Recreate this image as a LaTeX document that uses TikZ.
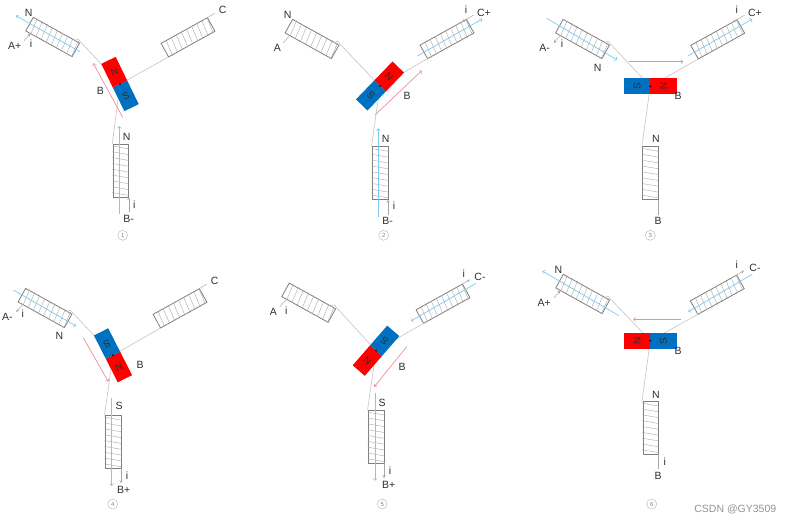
\documentclass[tikz,border=0pt]{standalone}
\usepackage{fontspec}
\setmainfont{Liberation Sans}
\usepackage{tikz}
\usetikzlibrary{calc}
\definecolor{wiregray}{HTML}{C4C4C4}
\definecolor{coilgray}{HTML}{7F7F7F}
\definecolor{windgray}{HTML}{A8A8A8}
\definecolor{fluxblue}{HTML}{7CCBEE}
\definecolor{fieldred}{HTML}{EE8C9C}
\definecolor{poleblue}{HTML}{0070C0}
\definecolor{inkgray}{HTML}{2E2E2E}
\tikzset{
  coilbox/.style={draw=coilgray,line width=0.8pt,fill=white,minimum width=53pt,minimum height=15.5pt,inner sep=0pt,outer sep=0pt},
  wind/.style={draw=windgray,line width=0.4pt,shorten <=-1pt},
  wire/.style={draw=wiregray,line width=0.6pt},
  leadwire/.style={draw=gray!70,line width=0.45pt,>=stealth},
  pole/.style={minimum width=16pt,minimum height=26.3pt,inner sep=0pt,outer sep=0pt,text=inkgray},
  poleN/.style={pole,fill=red},
  poleS/.style={pole,fill=poleblue},
  bluearrow/.style={draw=fluxblue,line width=0.7pt,->},
  redarrow/.style={draw=fieldred,line width=0.7pt,->},
  lbl/.style={inner sep=0pt,text=inkgray,font=\fontsize{10.5}{12}\selectfont},
  panelno/.style={draw=gray!60,circle,line width=0.4pt,minimum size=10pt,inner sep=0pt,text=gray,font=\fontsize{6}{7}\selectfont}
}
\begin{document}
\begin{tikzpicture}[x=1pt,y=-1pt]
\useasboundingbox (0,0) rectangle (794,523);
% panel: coils A, C, B, then rotor
\foreach \p/\ax/\ay/\cx/\cy/\bx/\by/\mx/\my/\ang/\ta/\tc/\tb in {
  1/52.7/37/188/37.3/121/170.5/120/84/116/->/-/<-,
  2/312/39/447/39/380.3/173/380/86/46/-/<-/<-,
  3/582.5/39/717.7/39.3/650.5/173/650.3/86.3/0/<-/<-/-,
  4/45/308/180/308.3/113.2/441.8/113/355.3/-63/<-/-/->,
  5/308.7/302.7/443/303.7/376.3/436.7/376/350.7/229/-/->/->,
  6/582.7/294/717.3/294.7/650.7/427.7/650.3/340.7/180/->/->/-}{
  \coordinate (M\p) at (\mx,\my);
  \node[coilbox,rotate=-29] (A\p) at (\ax,\ay) {};
  \node[coilbox,rotate=29] (C\p) at (\cx,\cy) {};
  \node[coilbox,rotate=90] (B\p) at (\bx,\by) {};
  % windings
  \foreach \f in {0.08,0.19,...,0.96}{
    \draw[wind] ($(A\p.north west)!\f!(A\p.north east)$) -- ($(A\p.south west)!\f+0.03!(A\p.south east)$);
    \draw[wind] ($(C\p.south west)!\f!(C\p.south east)$) -- ($(C\p.north west)!\f+0.03!(C\p.north east)$);
    \draw[wind] ($(B\p.north west)!\f!(B\p.north east)$) -- ($(B\p.south west)!\f-0.05!(B\p.south east)$);
  }
  % wires to the rotor
  \coordinate (Aw\p) at ($(A\p.north west)!.9!(A\p.north east)$);
  \draw[wire] (Aw\p) .. controls +(3,-2) and +(-2,-3) .. ($(A\p.north east)+(1,-1)$) -- (M\p);
  \draw[wire] (C\p.south west) -- (M\p);
  \draw[wire] ($(B\p.north east)+(-1,0)$) -- (M\p);
  % leads
  \coordinate (Al\p) at ($(A\p.south west)!.1!(A\p.south east)$);
  \coordinate (Cl\p) at ($(C\p.north west)!.9!(C\p.north east)$);
  \draw[leadwire,\ta] ($(Al\p)+(-6.5,7.5)$) -- (Al\p);
  \draw[leadwire,\tc] (Cl\p) -- ($(Cl\p)+(12,-7)$);
  \draw[leadwire,\tb] (B\p.south west) -- ($(B\p.south west)+(0,15)$);
  % rotor
  \node[poleN,rotate=\ang-90,anchor=south] (N\p) at (M\p) {N};
  \node[poleS,rotate=\ang-90,anchor=north] (S\p) at (M\p) {S};
  \fill[black] (M\p) circle (0.9);
}
% flux and field arrows
\foreach \nm/\kind/\xa/\ya/\xb/\yb in {
  fa1/bluearrow/80/51.7/16/15.7, fb1/bluearrow/119.3/214/119.3/126, r1/redarrow/122.7/117.3/93.3/63.3,
  fc2/bluearrow/417.3/56/482.3/19, fb2/bluearrow/378.3/216.7/378.3/128.3, r2/redarrow/375/115/421.7/70.7,
  fa3/bluearrow/546.7/18.3/617.3/60, fc3/bluearrow/688.3/55.7/752.3/19, r3/redarrow/629/61.7/683.3/61.7,
  fa4/bluearrow/13.3/290/76/326, fb4/bluearrow/111.7/397.7/111.7/486, r4/redarrow/83.3/337.7/108.3/381.7,
  fc5/bluearrow/476/283.3/411/321, fb5/bluearrow/375/393.3/375/480.7, r5/redarrow/406.7/346.7/374.3/386.7,
  fa6/bluearrow/619/315.7/542.3/271, fc6/bluearrow/752.3/274.3/688.3/311.7, r6/redarrow/681.3/319.3/633.3/319.3}{
  \coordinate (\nm s) at (\xa,\ya);
  \coordinate (\nm e) at (\xb,\yb);
  \draw[\kind] (\nm s) -- (\nm e);
}
% labels
\foreach \nm/\x/\y/\txt in {
  a1/28.7/12.7/N, b1/14.7/46.3/A+, c1/31/43.3/i, d1/222.7/10/C, e1/100.3/91/B, f1/126.7/136.7/N, g1/134.3/204.3/i, h1/128.7/219/B-,
  a2/287.7/15/N, b2/277.3/48.3/A, c2/466/9.3/i, d2/484/13.3/C+, e2/407/96/B, f2/385.7/139/N, g2/394/206/i, h2/387.7/221/B-,
  a3/597.7/68.3/N, b3/544.7/48.3/A-, c3/562/43.3/i, d3/736.7/9.3/i, j3/755/13.3/C+, e3/678/96.3/B, f3/656/139/N, h3/658/221/B,
  a4/59.3/336/N, b4/7.3/317.3/A-, c4/22.7/314/i, d4/214.7/280.7/C, e4/140/365/B, f4/119/406/S, g4/127/475.7/i, h4/123.7/490/B+,
  b5/273.3/312/A, c5/286.3/310.3/i, d5/463.7/273.7/i, j5/480/277.3/C-, e5/402/367/B, f5/382/403/S, g5/390/470.3/i, h5/388.7/485.3/B+,
  a6/558.3/270/N, b6/544.3/303/A+, d6/736.7/264.7/i, j6/755/268.3/C-, e6/678/351/B, f6/656/395/N, g6/664.7/461.3/i, h6/658/476/B}{
  \node[lbl] (\nm) at (\x,\y) {\txt};
}
% panel numbers
\foreach \nm/\x/\y in {1/122.7/235.3, 2/383.7/235.3, 3/650.3/235.3, 4/112.7/504, 5/382.3/504, 6/651.7/504}{
  \node[panelno] (no\nm) at (\x,\y) {\nm};
}
\node[lbl,text=gray!85] (mark) at (735.3,509) {CSDN @GY3509};
\end{tikzpicture}
\end{document}
